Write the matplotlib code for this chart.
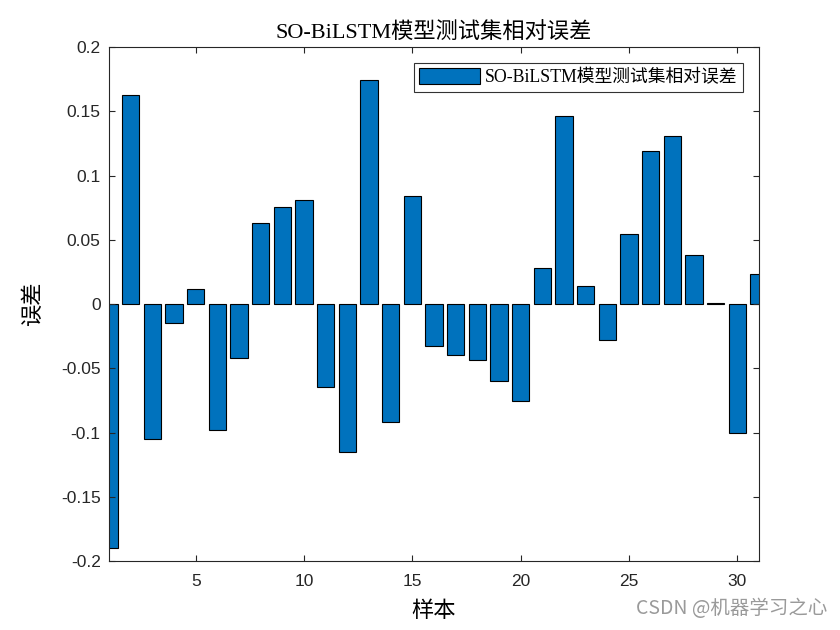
import matplotlib
matplotlib.use("Agg")
import matplotlib.pyplot as plt
import numpy as np

samples = list(range(1, 32))
errors = [-0.190, 0.163, -0.105, -0.0148, 0.0117, -0.098, -0.042, 0.063, 0.0755, 0.081,
          -0.0646, -0.115, 0.174, -0.0918, 0.084, -0.0327, -0.0397, -0.0436, -0.060, -0.0755,
          0.028, 0.146, 0.014, -0.028, 0.0545, 0.119, 0.1307, 0.038, 0.0008, -0.1004, 0.0233]
xticks = [5, 10, 15, 20, 25, 30]
yticks = [-0.2, -0.15, -0.1, -0.05, 0, 0.05, 0.1, 0.15, 0.2]
ytick_labels = ['-0.2', '-0.15', '-0.1', '-0.05', '0', '0.05', '0.1', '0.15', '0.2']

serif = ['Liberation Serif', 'Noto Sans CJK SC', 'DejaVu Sans']
sans = ['Liberation Sans', 'DejaVu Sans']

fig = plt.figure(figsize=(8.4, 6.3), dpi=100)
ax = fig.add_axes([0.1298, 0.1095, 0.7738, 0.8159])
ax.bar(samples, errors, width=0.8, color='#0072BD', edgecolor='black', linewidth=0.8,
       label='SO-BiLSTM模型测试集相对误差')
ax.set_xlim(1, 31)
ax.set_ylim(-0.2, 0.2)
ax.set_xticks(xticks)
ax.set_yticks(yticks)
ax.set_yticklabels(ytick_labels)
for lab in ax.get_xticklabels() + ax.get_yticklabels():
    lab.set_family(sans)
    lab.set_fontsize(12.5)
    lab.set_color('#262626')
ax.tick_params(direction='in', top=True, right=True, length=4, width=0.8, color='#262626')
ax.tick_params(axis='x', pad=9)
ax.tick_params(axis='y', pad=6)
for s in ax.spines.values():
    s.set_linewidth(0.8)
    s.set_color('#262626')
ax.set_title('SO-BiLSTM模型测试集相对误差', family=serif, fontsize=16, pad=6)
ax.set_xlabel('样本', family=serif, fontsize=16, labelpad=9)
ax.set_ylabel('误差', family=serif, fontsize=16, labelpad=12)
leg = ax.legend(loc='upper right', prop={'family': serif, 'size': 12.8}, frameon=True,
                fancybox=False, edgecolor='black', handlelength=3.4, handleheight=1.0,
                handletextpad=0.3, borderaxespad=0.9, borderpad=0.3)
leg.get_frame().set_linewidth(0.8)
fig.text(0.985, 0.018, 'CSDN @机器学习之心', ha='right', va='bottom', fontsize=14,
         color='#9a9a9a', family=['Noto Sans CJK SC', 'DejaVu Sans'])
fig.savefig('out.png', dpi=100)
